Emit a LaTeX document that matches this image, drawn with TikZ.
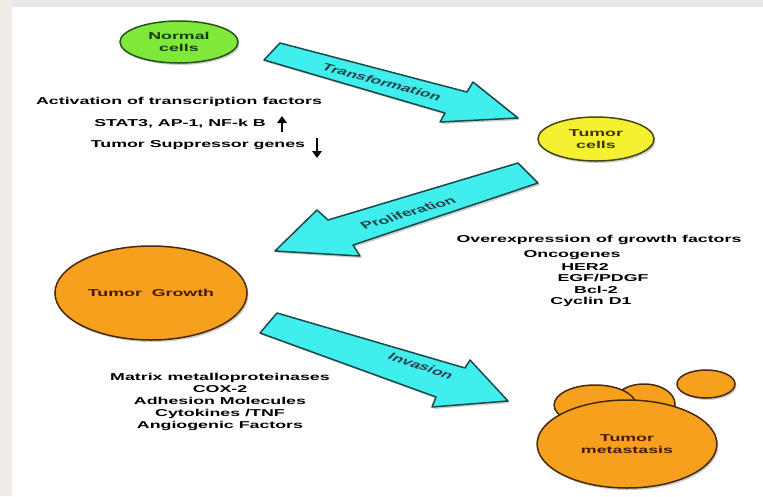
\documentclass[tikz,border=0pt]{standalone}
\usepackage{fontspec}
\setmainfont{Liberation Sans}
\usetikzlibrary{shapes.geometric,arrows.meta}
\definecolor{cyanfill}{RGB}{64,238,238}
\definecolor{cyanline}{RGB}{25,75,75}
\definecolor{arrtext}{RGB}{35,65,75}
\definecolor{greenfill}{RGB}{128,232,58}
\definecolor{greenline}{RGB}{35,85,25}
\definecolor{yellowfill}{RGB}{246,240,50}
\definecolor{yellowline}{RGB}{70,70,15}
\definecolor{orangefill}{RGB}{246,160,30}
\definecolor{orangeline}{RGB}{70,42,10}
\definecolor{browntext}{RGB}{70,25,5}
\definecolor{topgray}{RGB}{230,232,238}
\definecolor{leftgray}{RGB}{240,237,233}
\tikzset{
  txt/.style={font=\bfseries\fontsize{10}{12}\selectfont, align=center, xscale=1.78, inner sep=0pt},
  cell/.style={ellipse, draw, line width=1.5pt, xscale=1.78, inner sep=0pt,
    font=\bfseries\fontsize{10}{12}\selectfont, align=center,
    preaction={draw=none, fill=black, opacity=.2, transform canvas={xshift=1.5pt, yshift=-2pt}}},
  bigarrow/.style={draw=cyanline, fill=cyanfill, line width=1.5pt, line join=round,
    preaction={draw=none, fill=black, opacity=.2, transform canvas={xshift=2pt, yshift=-2pt}}},
  arrtxt/.style={font=\bfseries\fontsize{10}{12}\selectfont, text=arrtext, inner sep=0pt},
  updown/.style={line width=2.8pt, -{Triangle[width=9.5pt,length=7pt]}}
}
\begin{document}
\begin{tikzpicture}[x=1pt, y=-1pt]
  \useasboundingbox (0,0) rectangle (763,496);
  %背景
  \fill[leftgray] (0,0) rectangle (12,496);
  \fill[topgray] (12,0) rectangle (763,7);
  \fill[white] (12,7) rectangle (763,496);

  %细胞
  \node[cell, fill=greenfill, draw=greenline, text=greenline!70!black,
    minimum width=66.3pt, minimum height=42pt] (normal) at (179,42) {Normal\\cells};
  \node[cell, fill=yellowfill, draw=yellowline, text=yellowline!80!black,
    minimum width=65.2pt, minimum height=44pt] (tumor) at (596,139) {Tumor\\cells};
  \node[cell, fill=orangefill, draw=orangeline, text=browntext,
    minimum width=107.9pt, minimum height=94pt] (growth) at (151,293) {Tumor\ \ Growth};

  %转移
  \node[cell, fill=orangefill, draw=orangeline, minimum width=34.8pt, minimum height=40pt] (metaR) at (644,404) {};
  \node[cell, fill=orangefill, draw=orangeline, minimum width=46pt, minimum height=40pt] (metaL) at (595,405) {};
  \node[cell, fill=orangefill, draw=orangeline, minimum width=32.6pt, minimum height=28pt] (metaS) at (706,384) {};
  \node[cell, fill=orangefill, draw=orangeline, text=browntext,
    minimum width=101pt, minimum height=88pt] (meta) at (627,444) {Tumor\\metastasis};

  %大箭头
  \draw[bigarrow] (280,43) -- (467,92) -- (473,82) -- (518,118) -- (440,122) -- (445,113) -- (264,60) -- cycle;
  \node[arrtxt, xscale=1.78, rotate=-25] (trans) at (382,82) {Transformation};
  \draw[bigarrow] (518,163) -- (538,183) -- (353,245) -- (360,256) -- (275,251) -- (317,210) -- (328,220) -- cycle;
  \node[arrtxt, xscale=1.78, rotate=28] (prolif) at (408,213) {Proliferation};
  \draw[bigarrow] (277,313) -- (465,368) -- (470,360) -- (508,401) -- (432,407) -- (436,397) -- (260,333) -- cycle;
  \node[arrtxt, xscale=1.78, rotate=-30] (inv) at (421,366) {Invasion};

  %文字
  \node[txt] (act) at (179,102) {Activation of transcription factors};
  \node[txt] (stat) at (180,124) {STAT3, AP-1, NF-k B};
  \node[txt] (supp) at (198,145) {Tumor Suppressor genes};
  \coordinate (upA) at (282,132);
  \coordinate (upB) at (282,116);
  \coordinate (dnA) at (317,138);
  \coordinate (dnB) at (317,158);
  \draw[updown] (upA) -- (upB);
  \draw[updown] (dnA) -- (dnB);

  \node[txt] (over) at (599,240) {Overexpression of growth factors};
  \node[txt] (onco) at (572,255) {Oncogenes};
  \node[txt] (her) at (585,267) {HER2};
  \node[txt] (egf) at (603,278) {EGF/PDGF};
  \node[txt] (bcl) at (596,290) {Bcl-2};
  \node[txt] (cyc) at (591,302) {Cyclin D1};

  \node[txt] (mmp) at (220,402) {Matrix metalloproteinases\\COX-2\\Adhesion Molecules\\Cytokines /TNF\\Angiogenic Factors};
\end{tikzpicture}
\end{document}
